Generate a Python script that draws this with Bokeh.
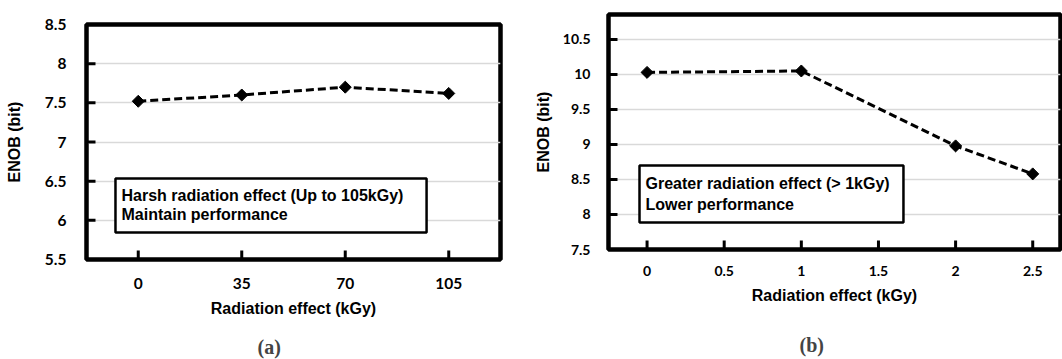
import math
from bokeh.plotting import figure
from bokeh.layouts import row, column
from bokeh.models import FixedTicker, BoxAnnotation, Label, Range1d, Title
from bokeh.embed import file_html
from bokeh.resources import INLINE

# ---------------- data ----------------
# panel (a)
dose_a = [0, 35, 70, 105]
enob_a = [7.52, 7.60, 7.70, 7.62]
yticks_a = [5.5, 6, 6.5, 7, 7.5, 8, 8.5]
ytick_labels_a = ["5.5", "6", "6.5", "7", "7.5", "8", "8.5"]
xticks_a = [0, 35, 70, 105]
xtick_labels_a = ["0", "35", "70", "105"]
note_a = ["Harsh radiation effect (Up to 105kGy)", "Maintain performance"]

# panel (b)
dose_b = [0, 1, 2, 2.5]
enob_b = [10.03, 10.05, 8.98, 8.58]
yticks_b = [7.5, 8, 8.5, 9, 9.5, 10, 10.5]
ytick_labels_b = ["7.5", "8", "8.5", "9", "9.5", "10", "10.5"]
xticks_b = [0, 0.5, 1, 1.5, 2, 2.5]
xtick_labels_b = ["0", "0.5", "1", "1.5", "2", "2.5"]
note_b = ["Greater radiation effect (> 1kGy)", "Lower performance"]

x_title = "Radiation effect (kGy)"
y_title = "ENOB (bit)"

FIG_W, FIG_H = 531, 359
TICK_PX = 9


def panel(x, y, xr, yr, xticks, xlabels, yticks, ylabels, note, box, text_pos,
          borders, tick_size, standoffs, caption, cap_offset, spacer):
    left, right, top, bottom = borders
    xs1, xs2, ys1, ys2 = standoffs
    p = figure(width=FIG_W, height=FIG_H, output_backend="svg", toolbar_location=None,
               x_range=Range1d(*xr), y_range=Range1d(*yr),
               min_border_left=left, min_border_right=right,
               min_border_top=top, min_border_bottom=bottom)
    p.outline_line_color = "black"
    p.outline_line_width = 4.5
    p.outline_line_alpha = 1.0
    p.background_fill_color = "white"
    p.border_fill_color = "white"

    p.xgrid.visible = False
    p.ygrid.grid_line_color = "#d9d9d9"
    p.ygrid.grid_line_width = 1.5
    p.ygrid.ticker = FixedTicker(ticks=yticks)

    p.xaxis.ticker = FixedTicker(ticks=xticks)
    p.yaxis.ticker = FixedTicker(ticks=yticks)
    p.xaxis.major_label_overrides = {t: l for t, l in zip(xticks, xlabels)}
    p.yaxis.major_label_overrides = {t: l for t, l in zip(yticks, ylabels)}
    for ax in (p.xaxis, p.yaxis):
        ax.axis_line_color = "black"
        ax.axis_line_width = 3
        ax.major_tick_in = 0
        ax.major_tick_out = 0
        ax.minor_tick_line_color = None
        ax.major_label_text_font = "Lato"
        ax.major_label_text_font_style = "bold"
        ax.major_label_text_font_size = tick_size
        ax.major_label_text_color = "black"
        ax.axis_label_text_font = "Liberation Sans"
        ax.axis_label_text_font_style = "bold"
        ax.axis_label_text_font_size = "16px"
        ax.axis_label_text_color = "black"
    p.xaxis.axis_label = x_title
    p.yaxis.axis_label = y_title
    p.xaxis.major_label_standoff = xs1
    p.xaxis.axis_label_standoff = xs2
    p.yaxis.major_label_standoff = ys1
    p.yaxis.axis_label_standoff = ys2

    # inward tick marks, drawn from the tick arrays through the data scales
    frame_w = FIG_W - left - right
    frame_h = FIG_H - top - bottom
    dx = TICK_PX * (xr[1] - xr[0]) / frame_w
    dy = TICK_PX * (yr[1] - yr[0]) / frame_h
    p.segment(x0=xticks, y0=[yr[0]] * len(xticks), x1=xticks,
              y1=[yr[0] + dy] * len(xticks), line_color="black", line_width=3)
    p.segment(x0=[xr[0]] * len(yticks), y0=yticks, x1=[xr[0] + dx] * len(yticks),
              y1=yticks, line_color="black", line_width=3)

    p.line(x, y, line_color="black", line_width=3, line_dash="8 4")
    p.scatter(x, y, marker="square", size=8.5, angle=math.pi / 4,
              fill_color="black", line_color="black")

    bl, br, bt, bb = box
    p.add_layout(BoxAnnotation(left=bl, right=br, top=bt, bottom=bb,
                               fill_color="white", fill_alpha=1.0,
                               line_color="black", line_alpha=1.0, line_width=2.5))
    tx, ty1, ty2 = text_pos
    for t, ty in zip(note, (ty1, ty2)):
        p.add_layout(Label(x=tx, y=ty, text=t, text_font="Liberation Sans",
                           text_font_style="bold", text_font_size="16px",
                           text_baseline="middle", text_color="black"))

    # spacer then caption below the x axis
    p.add_layout(Title(text=" ", text_font_size=spacer, standoff=0), "below")
    p.add_layout(Title(text=caption, align="left", offset=cap_offset,
                       text_font="Liberation Serif", text_font_style="bold",
                       text_font_size="20px", standoff=0), "below")
    return p


pa = panel(dose_a, enob_a, (-17.5, 122.5), (5.5, 8.5), xticks_a, xtick_labels_a,
           yticks_a, ytick_labels_a, note_a,
           (-7.7, 97.5, 6.534, 5.845), (-5.66, 6.317, 6.074),
           (86, 31, 24, 100), "15.5px", (18, 8, 20, 19), "(a)", 171, "11px")
pb = panel(dose_b, enob_b, (-0.25, 2.68), (7.5, 10.857), xticks_b, xtick_labels_b,
           yticks_b, ytick_labels_b, note_b,
           (-0.049, 1.662, 8.70, 7.886), (-0.01, 8.443, 8.143),
           (77, 2, 14, 110), "14px", (16, 8, 18, 8), "(b)", 191, "21px")

layout = row(column(pa), column(pb))
open("out.html", "w").write(file_html(layout, INLINE))
